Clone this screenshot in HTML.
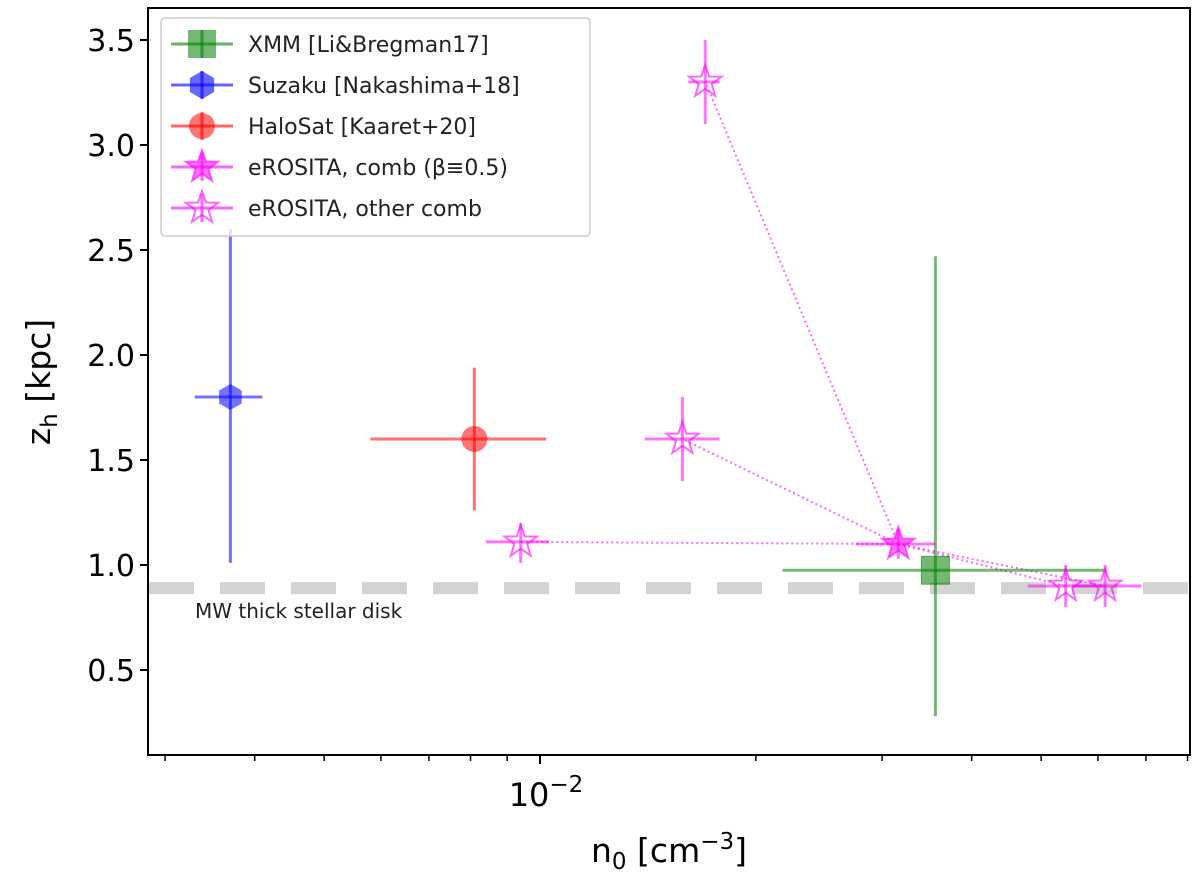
<!DOCTYPE html>
<html><head><meta charset="utf-8"><style>
body{margin:0;background:#fff;}
svg text{font-family:"DejaVu Sans","Liberation Sans",sans-serif;}
</style></head><body>
<svg id="chart" width="1200" height="879" viewBox="0 0 1200 879" xmlns="http://www.w3.org/2000/svg">
<g id="plot"></g>
</svg>
<script>
const xmm = {x:[0.0356], y:[0.975], xlo:[0.0218], xhi:[0.0614], ylo:[0.28], yhi:[2.47]};
const suzaku = {x:[0.0037], y:[1.80], xlo:[0.0033], xhi:[0.0041], ylo:[1.01], yhi:[2.60]};
const halosat = {x:[0.0081], y:[1.60], xlo:[0.0058], xhi:[0.0102], ylo:[1.26], yhi:[1.94]};
const eroComb = {x:[0.0316], y:[1.10], xlo:[0.0276], xhi:[0.0356], ylo:[1.03], yhi:[1.17]};
const eroOtherX = [0.0094, 0.0158, 0.0170, 0.0541, 0.0614];
const eroOtherY = [1.11, 1.60, 3.30, 0.90, 0.90];
const eroOtherXlo = [0.0084, 0.0140, 0.0161, 0.0479, 0.0553];
const eroOtherXhi = [0.0103, 0.0178, 0.0178, 0.0613, 0.0690];
const eroOtherYlo = [1.01, 1.40, 3.10, 0.80, 0.80];
const eroOtherYhi = [1.20, 1.80, 3.50, 1.00, 1.00];
const yTicks = [0.5,1.0,1.5,2.0,2.5,3.0,3.5];
const yTickLabels = ["0.5","1.0","1.5","2.0","2.5","3.0","3.5"];
const xMinorTicks = [0.003,0.004,0.005,0.006,0.007,0.008,0.009,0.02,0.03,0.04,0.05,0.06,0.07,0.08];
const diskZ = 0.89;

const L=148,R=1190,T=8,B=755;
const X = n => 540 + 717*Math.log10(n/0.01);
const Y = v => 670 - (v-0.5)*210;
const NS="http://www.w3.org/2000/svg";
const g=document.getElementById('plot');
function mk(tag,attrs,parent){const e=document.createElementNS(NS,tag);for(const k in attrs)e.setAttribute(k,attrs[k]);(parent||g).appendChild(e);return e;}
function starPts(cx,cy,r){let p=[];for(let i=0;i<10;i++){const rr=i%2?r*0.4:r;const a=-Math.PI/2+i*Math.PI/5;p.push((cx+rr*Math.cos(a)).toFixed(1)+','+(cy+rr*Math.sin(a)).toFixed(1));}return p.join(' ');}
function hexPts(cx,cy,r){let p=[];for(let i=0;i<6;i++){const a=-Math.PI/2+i*Math.PI/3;p.push((cx+r*Math.cos(a)).toFixed(1)+','+(cy+r*Math.sin(a)).toFixed(1));}return p.join(' ');}

let band=mk('line',{x1:L,x2:R,y1:Y(diskZ),y2:Y(diskZ),stroke:'#d3d3d3','stroke-width':12,'stroke-dasharray':'45 26','stroke-dashoffset':-1});


let bt=mk('text',{x:195,y:618,'font-size':20,fill:'#222'});bt.textContent='MW thick stellar disk';



for(let i=0;i<eroOtherX.length;i++){
  let l=mk('line',{x1:X(eroComb.x[0]),y1:Y(eroComb.y[0]),x2:X(eroOtherX[i]),y2:Y(eroOtherY[i]),stroke:'#ff00ff','stroke-opacity':0.6,'stroke-width':2,'stroke-dasharray':'2 3'});
  
  
}
function errbar(cx,cy,xlo,xhi,ylo,yhi,color,name){
  let gg=mk('g',{stroke:color,'stroke-opacity':0.55,'stroke-width':3});
  
  
  mk('line',{x1:X(xlo),x2:X(xhi),y1:Y(cy),y2:Y(cy)},gg);
  mk('line',{x1:X(cx),x2:X(cx),y1:Y(ylo),y2:Y(yhi)},gg);
  return gg;
}
errbar(xmm.x[0],xmm.y[0],xmm.xlo[0],xmm.xhi[0],xmm.ylo[0],xmm.yhi[0],'green','xmm-errorbar');
let sq=mk('rect',{x:X(xmm.x[0])-14,y:Y(xmm.y[0])-14,width:28,height:28,fill:'green','fill-opacity':0.55,stroke:'green','stroke-opacity':0.55});


errbar(suzaku.x[0],suzaku.y[0],suzaku.xlo[0],suzaku.xhi[0],suzaku.ylo[0],suzaku.yhi[0],'blue','suzaku-errorbar');
let hx=mk('polygon',{points:hexPts(X(suzaku.x[0]),Y(suzaku.y[0]),13),fill:'blue','fill-opacity':0.55});


errbar(halosat.x[0],halosat.y[0],halosat.xlo[0],halosat.xhi[0],halosat.ylo[0],halosat.yhi[0],'red','halosat-errorbar');
let ci=mk('circle',{cx:X(halosat.x[0]),cy:Y(halosat.y[0]),r:13,fill:'red','fill-opacity':0.55});


for(let i=0;i<eroOtherX.length;i++){
  errbar(eroOtherX[i],eroOtherY[i],eroOtherXlo[i],eroOtherXhi[i],eroOtherYlo[i],eroOtherYhi[i],'#ff00ff','erosita-other-errorbar');
  let s=mk('polygon',{points:starPts(X(eroOtherX[i]),Y(eroOtherY[i]),17),fill:'none',stroke:'#ff00ff','stroke-opacity':0.6,'stroke-width':2});
  
  
}
errbar(eroComb.x[0],eroComb.y[0],eroComb.xlo[0],eroComb.xhi[0],eroComb.ylo[0],eroComb.yhi[0],'#ff00ff','erosita-comb-errorbar');
let fs=mk('polygon',{points:starPts(X(eroComb.x[0]),Y(eroComb.y[0]),17),fill:'#ff00ff','fill-opacity':0.55,stroke:'#ff00ff','stroke-opacity':0.6,'stroke-width':2});



let fr=mk('rect',{x:L,y:T,width:R-L,height:B-T,fill:'none',stroke:'#000','stroke-width':2});


for(let i=0;i<yTicks.length;i++){
  const y=Y(yTicks[i]);
  mk('line',{x1:L-8,x2:L,y1:y,y2:y,stroke:'#000','stroke-width':2});
  let t=mk('text',{x:L-13,y:y+11,'font-size':30,'text-anchor':'end',fill:'#000'});t.textContent=yTickLabels[i];
  
  
}
mk('line',{x1:X(0.01),x2:X(0.01),y1:B,y2:B+9,stroke:'#000','stroke-width':2});
for(const n of xMinorTicks){const x=X(n);if(x<L||x>R)continue;mk('line',{x1:x,x2:x,y1:B,y2:B+6,stroke:'#000','stroke-width':1.5});}
let xl=mk('text',{x:X(0.01)+6,y:806,'font-size':32,'text-anchor':'middle',fill:'#000'});
xl.innerHTML='10<tspan dy="-14" font-size="23">−2</tspan>';


let xt=mk('text',{x:669,y:862,'font-size':33,'text-anchor':'middle',fill:'#000'});
xt.innerHTML='n<tspan dy="7" font-size="23">0</tspan><tspan dy="-7"> [cm</tspan><tspan dy="-13" font-size="23">−3</tspan><tspan dy="13">]</tspan>';


let yt=mk('text',{transform:'translate(50,382) rotate(-90)','font-size':33,'text-anchor':'middle',fill:'#000'});
yt.innerHTML='z<tspan dy="7" font-size="23">h</tspan><tspan dy="-7"> [kpc]</tspan>';



let lg=mk('g',{});


mk('rect',{x:161,y:18,width:429,height:218,rx:4,fill:'#fff','fill-opacity':0.8,stroke:'#ccc','stroke-width':1.5},lg);
const legLabels=['XMM [Li&Bregman17]','Suzaku [Nakashima+18]','HaloSat [Kaaret+20]','eROSITA, comb (β≡0.5)','eROSITA, other comb'];
const legColors=['green','blue','red','#ff00ff','#ff00ff'];
for(let i=0;i<5;i++){
  const cy=44+i*41, cx=202;
  let e=mk('g',{},lg);
  
  
  mk('line',{x1:171,x2:233,y1:cy,y2:cy,stroke:legColors[i],'stroke-opacity':0.6,'stroke-width':3},e);
  mk('line',{x1:cx,x2:cx,y1:cy-14,y2:cy+14,stroke:legColors[i],'stroke-opacity':0.6,'stroke-width':3},e);
  if(i==0) mk('rect',{x:cx-14,y:cy-14,width:28,height:28,fill:'green','fill-opacity':0.55},e);
  if(i==1) mk('polygon',{points:hexPts(cx,cy,14),fill:'blue','fill-opacity':0.6},e);
  if(i==2) mk('circle',{cx:cx,cy:cy,r:13,fill:'red','fill-opacity':0.55},e);
  if(i==3) mk('polygon',{points:starPts(cx,cy,17),fill:'#ff00ff','fill-opacity':0.55,stroke:'#ff00ff','stroke-opacity':0.6,'stroke-width':2},e);
  if(i==4) mk('polygon',{points:starPts(cx,cy,17),fill:'none',stroke:'#ff00ff','stroke-opacity':0.6,'stroke-width':2},e);
  let t=mk('text',{x:248,y:cy+8,'font-size':22,fill:'#222'},e);t.textContent=legLabels[i];
}
</script>
</body></html>
